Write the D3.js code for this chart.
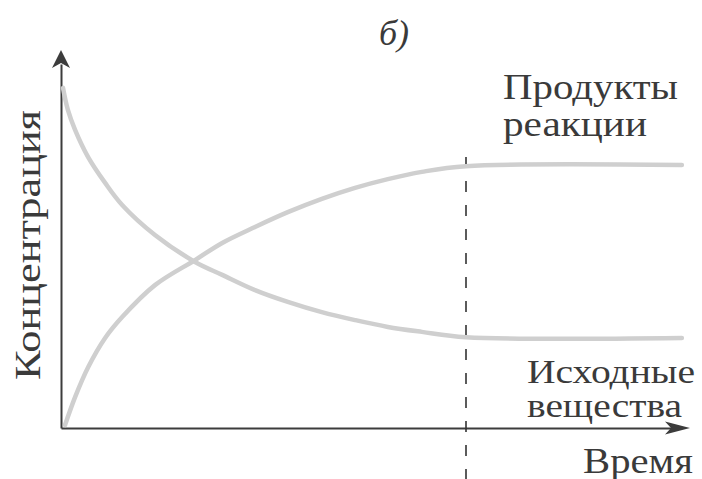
<!DOCTYPE html>
<html><head><meta charset="utf-8">
<script src="https://cdn.jsdelivr.net/npm/d3@7"></script>
<style>
html,body{margin:0;padding:0;background:#fff;}
svg{display:block;}
text{font-family:"Liberation Serif","DejaVu Serif",serif;fill:#3a3a3a;}
</style></head>
<body><svg id="c" width="702" height="479"></svg>
<script>
// Data (time in arbitrary units, equilibrium reached at t = 10)
const productTime  = [0.1, 0.35, 0.67, 1.09, 1.51, 2.32, 3.31, 3.98, 4.79, 5.6, 6.44, 7.26, 8.07, 8.91, 10, 15.33];
const productConc  = [0.08, 0.82, 1.6, 2.37, 2.92, 3.76, 4.42, 4.87, 5.29, 5.68, 6.03, 6.32, 6.55, 6.74, 6.89, 6.92];
const reactantTime = [0.05, 0.17, 0.35, 0.67, 1.09, 1.51, 2.32, 3.31, 3.98, 4.79, 5.6, 6.44, 7.26, 8.07, 8.91, 10, 15.33];
const reactantConc = [8.95, 8.37, 7.84, 7.13, 6.45, 5.87, 5.08, 4.37, 4.03, 3.63, 3.32, 3.05, 2.84, 2.66, 2.53, 2.39, 2.37];
const equilibriumTime = 10;
const title = "б)";
const yLabel = "Концентрация";
const xLabel = "Время";
const productLabel = ["Продукты", "реакции"];
const reactantLabel = ["Исходные", "вещества"];

const svg = d3.select("#c");
const x = d3.scaleLinear().domain([0, 10]).range([61, 466]);
const y = d3.scaleLinear().domain([0, 10]).range([428, 48]);
const axisColor = "#3c3c3c";

// axes (no ticks)
const xAxisScale = x.copy().domain([0, x.invert(672)]).range([61, 672]);
const yAxisScale = y.copy().domain([0, y.invert(64)]).range([428, 64]);
const gx = svg.append("g").attr("transform", `translate(0,${y(0)})`)
  .call(d3.axisBottom(xAxisScale).tickValues([]).tickSizeOuter(0));
const gy = svg.append("g").attr("transform", `translate(${x(0)},0)`)
  .call(d3.axisLeft(yAxisScale).tickValues([]).tickSizeOuter(0));
[gx, gy].forEach(g => g.select(".domain").attr("stroke", axisColor).attr("stroke-width", 2));

// arrowheads
const x0 = x(0), y0 = y(0);
svg.append("path")
  .attr("d", `M${x0},${50} L${x0 + 9},${68} L${x0},${63} L${x0 - 9},${68} Z`)
  .attr("fill", axisColor);
svg.append("path")
  .attr("d", `M${690},${y0} L${665},${y0 - 6.5} L${671},${y0} L${665},${y0 + 6.5} Z`)
  .attr("fill", axisColor);

// dashed equilibrium line
svg.append("line")
  .attr("x1", x(equilibriumTime)).attr("x2", x(equilibriumTime))
  .attr("y1", 157).attr("y2", 479)
  .attr("stroke", "#333").attr("stroke-width", 1.6)
  .attr("stroke-dasharray", "11,13");

// curves
const line = d3.line().x(d => x(d[0])).y(d => y(d[1])).curve(d3.curveCatmullRom.alpha(0.5));
const prod = d3.zip(productTime, productConc);
const reac = d3.zip(reactantTime, reactantConc);
[prod, reac].forEach(data => {
  svg.append("path").datum(data).attr("d", line)
    .attr("fill", "none").attr("stroke", "#cfcfcf")
    .attr("stroke-width", 4.5).attr("stroke-linecap", "round");
});

// texts
function label(sel, len) {
  return sel.attr("textLength", len).attr("lengthAdjust", "spacingAndGlyphs");
}
svg.append("text").attr("x", 379).attr("y", 45).attr("font-size", 36)
  .attr("font-style", "italic").text(title);
label(svg.append("text").attr("transform", "translate(40,110) rotate(-90)")
  .attr("text-anchor", "end").attr("font-size", 36).text(yLabel), 270);
label(svg.append("text").attr("x", 583).attr("y", 473).attr("font-size", 35).text(xLabel), 110);
const prodLens = [175, 144];
productLabel.forEach((t, i) => label(svg.append("text").attr("x", 503).attr("y", 99 + i * 37)
  .attr("font-size", 35).text(t), prodLens[i]));
const reacLens = [168, 155];
reactantLabel.forEach((t, i) => label(svg.append("text").attr("x", 527).attr("y", 383 + i * 34)
  .attr("font-size", 34).text(t), reacLens[i]));
</script></body></html>
